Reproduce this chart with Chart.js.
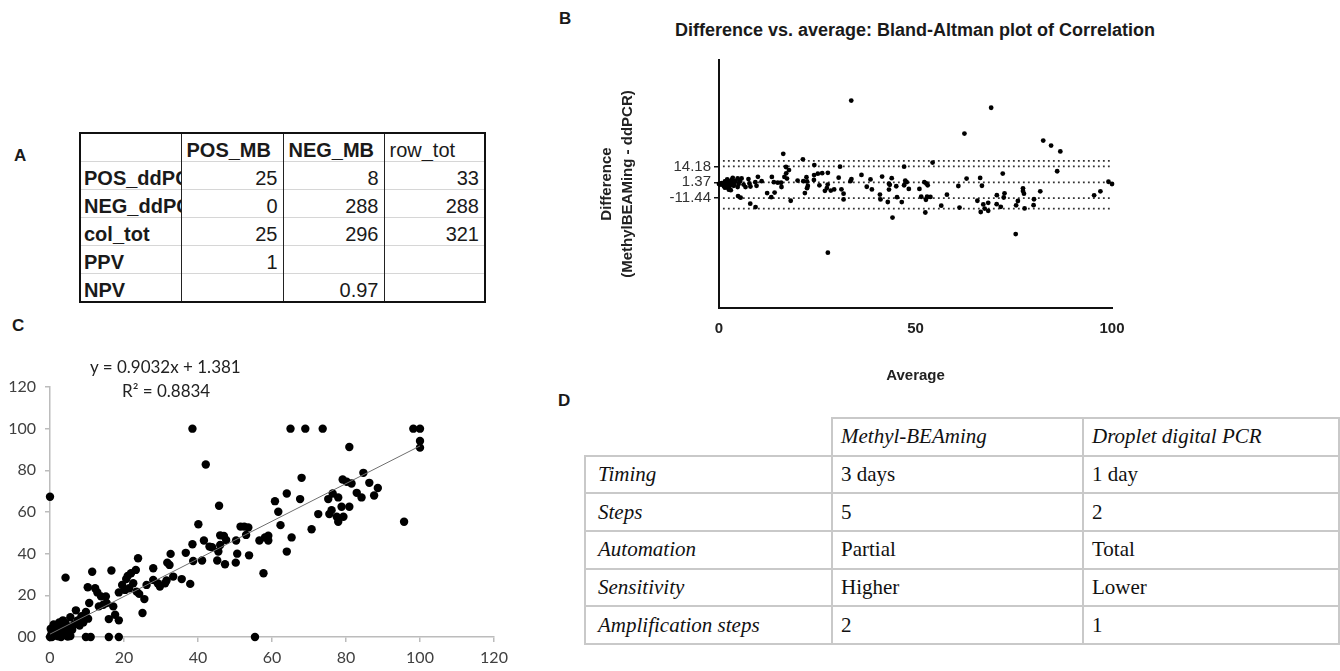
<!DOCTYPE html>
<html>
<head>
<meta charset="utf-8">
<title>Methyl-BEAMing vs ddPCR</title>
<script src="https://cdn.jsdelivr.net/npm/chart.js@4.4.1/dist/chart.umd.min.js"></script>
<style>
  body { margin: 0; width: 1340px; height: 671px; position: relative; overflow: hidden; background: #fff;
         font-family: "Liberation Sans", Arial, sans-serif; color: #1a1a1a; }
  .tag { position: absolute; font-weight: bold; font-size: 17px; line-height: 17px; }
  canvas { position: absolute; }

  /* table A: excel-like */
  #tabA { position: absolute; left: 79px; top: 132px; width: 405px; border-collapse: collapse; table-layout: fixed;
          border: 2px solid #111; font-size: 20px; }
  #tabA td { height: 26px; padding: 0 5px 1px 4px; border-top: 1px solid #d6d6d6; border-left: 1.5px solid #222;
             white-space: nowrap; overflow: hidden; line-height: 20px; vertical-align: bottom; text-align: right; }
  #tabA td.lab { text-align: left; font-weight: bold; padding-left: 3px; padding-right: 0; }
  #tabA tr.head td { text-align: left; font-weight: bold; padding-left: 5px; }
  #tabA tr.head td.plain { font-weight: normal; }

  /* table D */
  #tabD { position: absolute; left: 584px; top: 417px; width: 754px; border-collapse: collapse; table-layout: fixed;
          font-family: "Liberation Serif", "Times New Roman", serif; font-size: 21px; color: #111; }
  #tabD td { height: 35.7px; border: 2px solid #c9c9c9; padding: 0 0 0 8px; white-space: nowrap; }
  #tabD td.lab, #tabD tr.head td { font-style: italic; }
  #tabD td.lab { padding-left: 12px; }
  #tabD tr.head td.blank { border: none; }

  #titleB { position: absolute; left: 565px; width: 700px; top: 19px; text-align: center;
            font-weight: bold; font-size: 18px; line-height: 22px; }
  .eq { position: absolute; font-family: Lato, "Open Sans", sans-serif; font-size: 17px; color: #222; }
</style>
</head>
<body>

<div class="tag" style="left:14px; top:147px;">A</div>
<div class="tag" style="left:559px; top:10px;">B</div>
<div class="tag" style="left:12px; top:317px;">C</div>
<div class="tag" style="left:558px; top:392px;">D</div>

<table id="tabA"></table>
<div id="titleB">Difference vs. average: Bland-Altman plot of Correlation</div>
<canvas id="chartB" width="560" height="350" style="left:580px; top:40px;"></canvas>
<canvas id="chartC" width="520" height="331" style="left:0px; top:340px;"></canvas>
<div class="eq" style="left:90px; top:356px;">y = 0.9032x + 1.381</div>
<div class="eq" style="left:122px; top:380px;">R² = 0.8834</div>
<table id="tabD"></table>

<script>
// ---- data ----

// paired measurements (% methylation): [ddPCR, Methyl-BEAMing]
const samplePairs = [
  [0,0],[0.3,1],[0.5,2.5],[0.8,0.5],[1,1.5],[1.2,3.5],[1.5,0.8],[1.8,2],[2,4.5],[2.2,0.3],
  [2.5,1.8],[2.8,3],[3,5.5],[3.2,0.5],[3.5,2.5],[3.8,4],[4,1],[4.2,6.5],[4.5,3],[4.8,0.2],
  [5,5],[0.2,4],[1,6],[2.5,7],[3.5,8],[5.5,9.5],[6,3.5],[6.5,6],[7,12.8],[7.5,8],
  [8,5.5],[8.5,10],[9,7],[9.7,12],[10.3,8.8],[3,0],[5.5,0.5],[1.5,5],[2,2.5],[0.5,0],
  [4,3.5],[0,67.3],[4.2,28.5],[9.7,0],[11,0],[15.9,0],[18.6,0],[10.2,23.9],[11.4,31.3],[10.6,16.3],
  [12.2,23.4],[12.8,21.4],[13.8,19.5],[13.2,14.7],[14.4,15.5],[15.1,19.5],[15.3,16.3],[15.9,8.6],[16.6,31.9],[17.1,14.7],
  [17.6,10.7],[18.6,21.4],[18.6,8],[19.5,25],[20.3,22.6],[20.6,27.8],[21,29.3],[21.4,23.4],[21.9,30.6],[22.5,25.8],
  [23.2,32.2],[23.8,37.8],[23.4,21.8],[24.1,20.7],[25,11.5],[25.5,18.2],[26.1,25],[27.9,33],[27.9,27.4],[29.1,25.8],
  [29.7,24.2],[31.1,25.8],[31.5,27.1],[31.7,35.7],[32.3,34.6],[32.6,39.9],[33.3,29],[35.6,27.8],[36.7,40.4],[37.9,25.5],
  [38.5,44.5],[38.5,100],[38.7,36.5],[40.1,54.1],[41.1,36.7],[41.6,46.3],[42.1,82.8],[43.1,43.4],[43.8,43.1],[45.2,36.7],
  [45.7,63],[45.5,41],[46,48.8],[46,44.2],[47,48.5],[47.3,34.9],[47.6,46.6],[50.3,46.3],[50.6,40],[50.2,35.7],
  [51.5,53],[52.5,53],[53,49],[53.6,52.6],[53.8,39.2],[55.4,0],[56.6,46.3],[58.1,47.8],[59,48.6],[59,46.3],
  [57.7,30.6],[60.8,65.2],[61.7,60.1],[62.3,53.7],[64,68.9],[64,41],[65.3,47.8],[65,100],[67.6,66.2],[68,76.4],
  [69,100],[70.7,51.7],[72.5,59],[73.7,100],[75.2,66.2],[75.5,59],[76.4,68.9],[76.1,60.9],[77.5,57.7],[77.9,55.3],
  [77.9,67],[78.8,62.5],[79.3,57.7],[79.1,75.6],[80.2,74.5],[80.9,91.2],[80.9,62.5],[81.5,73.7],[82.9,69.2],[84.2,67],
  [84.7,78.8],[86.3,74],[87.6,67.9],[88.6,71.5],[95.7,55.3],[98.2,100],[100,100],[100,94.1],[100,90.9]
];

// excel trendline shown on panel C
const trendSlope = 0.9032;
const trendIntercept = 1.381;

// Bland-Altman reference lines (dotted) and labelled ticks
const baDottedLines = [18.6, 14.18, 1.37, -11.44, -19.9];
const baYTicks = [14.18, 1.37, -11.44];
const baXTicks = [0, 50, 100];

// table A
const tabAHeader = ['', 'POS_MB', 'NEG_MB', 'row_tot'];
const tabARows = [
  ['POS_ddPCR', '25', '8', '33'],
  ['NEG_ddPCR', '0', '288', '288'],
  ['col_tot', '25', '296', '321'],
  ['PPV', '1', '', ''],
  ['NPV', '', '0.97', '']
];
const tabAWidths = [101, 102, 101, 101];

// table D
const tabDHeader = ['', 'Methyl-BEAming', 'Droplet digital PCR'];
const tabDRows = [
  ['Timing', '3 days', '1 day'],
  ['Steps', '5', '2'],
  ['Automation', 'Partial', 'Total'],
  ['Sensitivity', 'Higher', 'Lower'],
  ['Amplification steps', '2', '1']
];
const tabDWidths = [247, 251, 256];

// ---- tables ----
function buildTable(id, header, rows, widths, fill) {
  const table = document.getElementById(id);
  const cg = document.createElement('colgroup');
  widths.forEach(w => {
    const c = document.createElement('col');
    c.style.width = w + 'px';
    cg.appendChild(c);
  });
  table.appendChild(cg);
  const hr = table.insertRow();
  hr.className = 'head';
  header.forEach((h, i) => fill(hr.insertCell(), h, i, true));
  rows.forEach(r => {
    const tr = table.insertRow();
    r.forEach((v, i) => fill(tr.insertCell(), v, i, false));
  });
}

buildTable('tabA', tabAHeader, tabARows, tabAWidths, (td, v, i, head) => {
  td.textContent = v;
  if (head && v === 'row_tot') td.className = 'plain';
  if (!head && i === 0) td.className = 'lab';
});

buildTable('tabD', tabDHeader, tabDRows, tabDWidths, (td, v, i, head) => {
  td.textContent = v;
  if (head && i === 0) td.className = 'blank';
  if (!head && i === 0) td.className = 'lab';
});

// ---- charts ----
Chart.defaults.font.family = '"Liberation Sans", Arial, sans-serif';
Chart.defaults.color = '#222';

const ddpcr = samplePairs.map(p => p[0]);
const methylBeaming = samplePairs.map(p => p[1]);

// Panel B: average vs difference (MethylBEAMing - ddPCR)
const baPoints = samplePairs.map(([d, m]) => ({ x: (d + m) / 2, y: m - d }));

const baLineSets = baDottedLines.map(v => ({
  data: [{ x: 1, y: v }, { x: 99.5, y: v }],
  showLine: true,
  borderColor: '#333',
  borderWidth: 1.8,
  borderDash: [1.8, 3.2],
  pointRadius: 0,
  order: 2
}));

new Chart(document.getElementById('chartB'), {
  type: 'scatter',
  data: {
    datasets: [
      {
        data: baPoints,
        backgroundColor: '#000',
        borderColor: '#000',
        pointRadius: 2.4,
        borderWidth: 0,
        clip: false,
        order: 1
      },
      ...baLineSets
    ]
  },
  options: {
    responsive: false,
    devicePixelRatio: 1,
    animation: false,
    layout: { padding: { top: 20, right: 28, left: 0, bottom: 0 } },
    plugins: { legend: { display: false }, tooltip: { enabled: false } },
    scales: {
      x: {
        type: 'linear', min: 0, max: 100,
        afterBuildTicks: s => { s.ticks = baXTicks.map(v => ({ value: v })); },
        afterFit: s => { s.height = 82; },
        ticks: { font: { size: 15, weight: 'bold' }, color: '#222', padding: 4 },
        grid: { display: false },
        border: { color: '#111', width: 2 },
        title: { display: true, text: 'Average', font: { size: 15, weight: 'bold' }, color: '#222',
                 padding: { bottom: 5 } }
      },
      y: {
        type: 'linear', min: -100, max: 100,
        afterBuildTicks: s => { s.ticks = baYTicks.map(v => ({ value: v })); },
        afterFit: s => { s.width = 139; },
        ticks: { font: { size: 15 }, color: '#333', padding: 3, callback: v => v.toFixed(2) },
        grid: { drawOnChartArea: false, drawTicks: true, tickLength: 5, color: '#111', lineWidth: 1.5 },
        border: { color: '#111', width: 2 },
        title: { display: true, text: ['Difference', '(MethylBEAMing - ddPCR)'],
                 font: { size: 15, weight: 'bold', lineHeight: 1.4 }, color: '#222',
                 padding: { top: 16 } }
      }
    }
  }
});

// Panel C: Methyl-BEAMing vs ddPCR scatter with linear trendline
const scatterPoints = ddpcr.map((x, i) => ({ x: x, y: methylBeaming[i] }));
const trendPoints = [0, 100].map(x => ({ x: x, y: trendSlope * x + trendIntercept }));

const axisFont = { family: 'Lato, "Open Sans", sans-serif', size: 16 };

new Chart(document.getElementById('chartC'), {
  type: 'scatter',
  data: {
    datasets: [
      {
        data: trendPoints,
        showLine: true,
        borderColor: '#6f6f6f',
        borderWidth: 1,
        pointRadius: 0,
        order: 0
      },
      {
        data: scatterPoints,
        backgroundColor: '#000',
        borderColor: '#000',
        pointRadius: 4.2,
        borderWidth: 0,
        clip: false,
        order: 1
      }
    ]
  },
  options: {
    responsive: false,
    devicePixelRatio: 1,
    animation: false,
    layout: { padding: { top: 47, right: 26, left: 0, bottom: 0 } },
    plugins: { legend: { display: false }, tooltip: { enabled: false } },
    scales: {
      x: {
        type: 'linear', min: 0, max: 120,
        afterFit: s => { s.height = 34; },
        ticks: { stepSize: 20, font: axisFont, color: '#404040', padding: 6 },
        grid: { drawOnChartArea: false, tickLength: 5, color: '#bcbcbc', lineWidth: 1.5 },
        border: { color: '#bcbcbc', width: 1.5 }
      },
      y: {
        type: 'linear', min: 0, max: 120,
        afterFit: s => { s.width = 50; },
        ticks: { stepSize: 20, font: axisFont, color: '#404040', padding: 9,
                 callback: v => (v === 0 ? '00' : v) },
        grid: { drawOnChartArea: false, tickLength: 5, color: '#bcbcbc', lineWidth: 1.5 },
        border: { color: '#bcbcbc', width: 1.5 }
      }
    }
  }
});
</script>
</body>
</html>
